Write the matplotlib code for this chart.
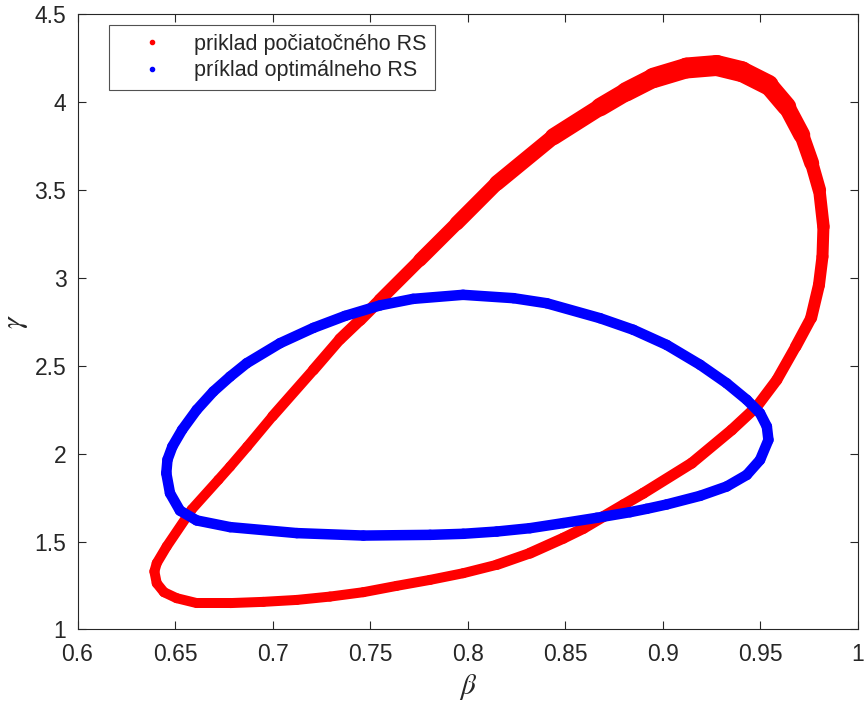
import numpy as np
import matplotlib
matplotlib.use('Agg')
import matplotlib.pyplot as plt
from matplotlib.collections import LineCollection
from matplotlib.lines import Line2D

# priklad pociatocneho RS (cerveny) - body odcitane pozdlz krivky
red_beta = [0.6394, 0.6406, 0.6443, 0.6508, 0.6611, 0.6782, 0.6952, 0.7124,
            0.7294, 0.7465, 0.7636, 0.7807, 0.7977, 0.8149, 0.8319, 0.8490,
            0.8593, 0.8695, 0.8798, 0.8900, 0.9148, 0.9353, 0.9481, 0.9584,
            0.9681, 0.9760, 0.9800, 0.9818, 0.9823, 0.9802, 0.9763, 0.9712,
            0.9635, 0.9541, 0.9405, 0.9276, 0.9122, 0.8951, 0.8811, 0.8678,
            0.8439, 0.8149, 0.7944, 0.7755, 0.7550, 0.7448, 0.7345, 0.7209,
            0.7000, 0.6870, 0.6782, 0.6722, 0.6585, 0.6457, 0.6406, 0.6394]
red_gamma = [1.330, 1.263, 1.212, 1.178, 1.150, 1.150, 1.157, 1.168,
             1.187, 1.212, 1.248, 1.282, 1.320, 1.368, 1.434, 1.519,
             1.575, 1.642, 1.709, 1.775, 1.946, 2.135, 2.267, 2.419,
             2.609, 2.772, 2.959, 3.120, 3.291, 3.499, 3.651, 3.812,
             3.973, 4.096, 4.172, 4.207, 4.193, 4.136, 4.057, 3.970,
             3.802, 3.538, 3.310, 3.101, 2.874, 2.760, 2.651, 2.476,
             2.213, 2.040, 1.926, 1.851, 1.682, 1.472, 1.377, 1.330]
# hrubka pasu bodov (px)
red_band = [10, 10, 10, 10, 10, 10, 10, 10,
            10, 10, 10, 10, 10, 10, 11, 11,
            11, 11, 11, 11, 11, 11, 11, 11,
            11, 12, 12, 12, 12, 13, 14, 16,
            18, 20, 21, 21, 21, 20, 19, 18,
            16, 15, 14, 13, 12, 12, 11, 11,
            10, 10, 10, 10, 10, 10, 10, 10]

# priklad optimalneho RS (modry)
blue_beta = [0.9541, 0.9533, 0.9498, 0.9430, 0.9327, 0.9191, 0.9020, 0.8849,
             0.8678, 0.8405, 0.8234, 0.7976, 0.7720, 0.7551, 0.7371, 0.7209,
             0.7038, 0.6867, 0.6782, 0.6696, 0.6611, 0.6536, 0.6486, 0.6461,
             0.6455, 0.6474, 0.6525, 0.6611, 0.6782, 0.7124, 0.7465, 0.7807,
             0.7977, 0.8149, 0.8319, 0.8490, 0.8661, 0.8832, 0.8917, 0.9020,
             0.9191, 0.9327, 0.9430, 0.9498, 0.9541]
blue_gamma = [2.078, 2.154, 2.230, 2.306, 2.400, 2.505, 2.618, 2.704,
              2.770, 2.855, 2.884, 2.903, 2.880, 2.843, 2.783, 2.715,
              2.628, 2.514, 2.438, 2.353, 2.249, 2.135, 2.040, 1.965,
              1.889, 1.775, 1.676, 1.620, 1.582, 1.548, 1.534, 1.538,
              1.544, 1.557, 1.576, 1.605, 1.635, 1.667, 1.686, 1.711,
              1.760, 1.813, 1.879, 1.964, 2.078]
blue_band = 10.5

xticks = [0.6, 0.65, 0.7, 0.75, 0.8, 0.85, 0.9, 0.95, 1]
xtick_labels = ['0.6', '0.65', '0.7', '0.75', '0.8', '0.85', '0.9', '0.95', '1']
yticks = [1, 1.5, 2, 2.5, 3, 3.5, 4, 4.5]
ytick_labels = ['1', '1.5', '2', '2.5', '3', '3.5', '4', '4.5']

plt.rcParams['font.family'] = ['Liberation Sans', 'DejaVu Sans']
plt.rcParams['mathtext.fontset'] = 'stix'
dark = '#262626'


def band(ax, bx, gy, width_px, color):
    # pas bodov ako hruba ciara s premenlivou hrubkou
    pts = np.column_stack([bx, gy])
    segs = np.stack([pts[:-1], pts[1:]], axis=1)
    w = np.broadcast_to(np.asarray(width_px, dtype=float), (len(pts),))
    lw = 0.5 * (w[:-1] + w[1:]) * 0.72
    lc = LineCollection(segs, colors=color, linewidths=lw,
                        capstyle='round', joinstyle='round')
    ax.add_collection(lc)


fig = plt.figure(figsize=(8.67, 7.06), dpi=100)
ax = fig.add_axes([0.0894, 0.1084, 0.9002, 0.8718])

band(ax, red_beta, red_gamma, red_band, '#ff0000')
band(ax, blue_beta, blue_gamma, blue_band, '#0000ff')

ax.set_xlim(0.6, 1)
ax.set_ylim(1, 4.5)
ax.set_xticks(xticks)
ax.set_xticklabels(xtick_labels)
ax.set_yticks(yticks)
ax.set_yticklabels(ytick_labels)
ax.tick_params(direction='in', length=6, width=0.8, color=dark,
               labelcolor=dark, labelsize=16.5, top=True, right=True)
ax.tick_params(axis='x', pad=10)
ax.tick_params(axis='y', pad=8)
for s in ax.spines.values():
    s.set_color(dark)
    s.set_linewidth(0.8)

ax.set_xlabel(r'$\beta$', fontsize=21, color=dark, labelpad=4)
ax.set_ylabel(r'$\gamma$', fontsize=21, color=dark)
ax.yaxis.set_label_coords(-0.061, 0.5)

handles = [Line2D([], [], color='#ff0000', marker='.', linestyle='none', markersize=6),
           Line2D([], [], color='#0000ff', marker='.', linestyle='none', markersize=6)]
leg = ax.legend(handles, ['priklad počiatočného RS', 'príklad optimálneho RS'],
                loc='upper left', bbox_to_anchor=(0.0404, 0.982), borderaxespad=0,
                fontsize=15.5, frameon=True, fancybox=False, edgecolor=dark,
                handlelength=3.2, handletextpad=0.35, borderpad=0.4,
                labelspacing=0.25)
leg.get_frame().set_linewidth(0.8)
for t in leg.get_texts():
    t.set_color(dark)

fig.savefig('out.png', dpi=100)
